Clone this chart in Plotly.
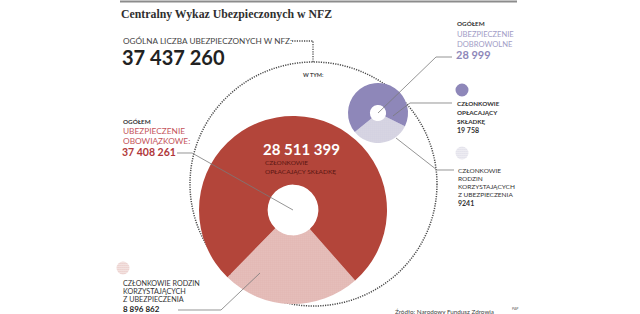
import plotly.graph_objects as go

W, H = 640, 314
def fx(x): return x / W
def fy(y): return 1 - y / H

# ---- data ----
title = "Centralny Wykaz Ubezpieczonych w NFZ"
total_all = "37 437 260"
mand_labels = ["Członkowie rodzin korzystających z ubezpieczenia", "Członkowie opłacający składkę"]
mand_values = [8896862, 28511399]
vol_labels = ["Członkowie rodzin korzystających z ubezpieczenia", "Członkowie opłacający składkę"]
vol_values = [9241, 19758]
mand_total = "37 408 261"
vol_total = "28 999"
mand_pay_txt = "28 511 399"
mand_fam_txt = "8 896 862"
vol_pay_txt = "19 758"
vol_fam_txt = "9241"

RED = "#b3453a"
PURPLE = "#8e87b9"
LRED = "#c4545a"
LPUR = "#a29dc6"
DOTRED = "#c0665d"
DOTPUR = "#a29ebd"

fig = go.Figure()

# big pie (obowiązkowe)
fig.add_trace(go.Pie(
    labels=mand_labels, values=mand_values, sort=False, direction="clockwise",
    rotation=138.6, hole=0.27, textinfo="none", hoverinfo="label+value",
    marker=dict(colors=["white", RED], line=dict(width=0),
                pattern=dict(shape=[".", ""], fgcolor=[DOTRED, RED], bgcolor=["#fbf1f0", RED],
                             size=2, solidity=0.4)),
    domain=dict(x=[fx(199), fx(387)], y=[fy(304), fy(116)]), showlegend=False))

# small pie (dobrowolne)
fig.add_trace(go.Pie(
    labels=vol_labels, values=vol_values, sort=False, direction="clockwise",
    rotation=116, hole=0.27, textinfo="none", hoverinfo="label+value",
    marker=dict(colors=["white", PURPLE], line=dict(width=0),
                pattern=dict(shape=[".", ""], fgcolor=[DOTPUR, PURPLE], bgcolor=["#f6f5f9", PURPLE],
                             size=2, solidity=0.4)),
    domain=dict(x=[fx(348), fx(408)], y=[fy(143), fy(83)]), showlegend=False))

# hatched legend icons (mini pies)
for (cx, cy, col) in [(462, 153, DOTPUR), (123, 268, DOTRED)]:
    fig.add_trace(go.Pie(
        labels=["icon"], values=[1], textinfo="none", hoverinfo="skip", sort=False,
        marker=dict(colors=["white"], line=dict(width=0),
                    pattern=dict(shape=".", fgcolor=col, bgcolor="white", size=2, solidity=0.3)),
        domain=dict(x=[fx(cx - 6.5), fx(cx + 6.5)], y=[fy(cy + 6.5), fy(cy - 6.5)]),
        showlegend=False))

shapes = []
# top rule
shapes.append(dict(type="line", xref="paper", yref="paper", x0=fx(120), x1=fx(517), y0=fy(1.5), y1=fy(1.5),
                   line=dict(color="#8c8c8c", width=2)))
# big dotted circle
shapes.append(dict(type="circle", xref="paper", yref="paper", x0=fx(190), x1=fx(437), y0=fy(306), y1=fy(62),
                   line=dict(color="#4a4a4a", width=1.5, dash="1.2px,1.2px"), layer="below"))
def path(pts):
    s = "M %f %f" % (fx(pts[0][0]), fy(pts[0][1]))
    for p in pts[1:]:
        s += " L %f %f" % (fx(p[0]), fy(p[1]))
    return s
# dotted connector from total to circle
shapes.append(dict(type="path", xref="paper", yref="paper", path=path([(292, 41), (313, 41), (313, 62)]),
                   line=dict(color="#4a4a4a", width=1.3, dash="1.2px,1.2px")))
# connector lines
for pts in [
    [(452, 57), (436, 57), (378, 113)],
    [(452, 103), (410, 103), (393, 116)],
    [(454, 170), (437, 170), (396, 138)],
    [(177, 153), (192, 153), (293, 210)],
    [(178, 310), (221, 310), (260, 273)],
]:
    shapes.append(dict(type="path", xref="paper", yref="paper", path=path(pts),
                       line=dict(color="#7a7a7a", width=0.8)))
# purple legend dot
shapes.append(dict(type="circle", xref="paper", yref="paper", x0=fx(455.5), x1=fx(468.5), y0=fy(96.5), y1=fy(83.5),
                   fillcolor=PURPLE, line=dict(width=0)))

ann = []
def txt(x, y, t, size, color, family="Lato", anchor="left"):
    ann.append(dict(x=fx(x), y=fy(y), xref="paper", yref="paper", text=t, showarrow=False,
                    xanchor=anchor, yanchor="middle", font=dict(size=size, color=color, family=family)))

txt(119, 14, "<b>" + title + "</b>", 11.8, "#2f2f2f", family="Liberation Serif")
txt(121, 41, "OGÓLNA LICZBA UBEZPIECZONYCH W NFZ:", 8.2, "#444")
txt(120, 57, "<b>" + total_all + "</b>", 20, "#222")
txt(301, 75, "<b>W TYM:</b>", 5.5, "#444")

# right: voluntary
txt(455, 24, "<b>OGÓŁEM</b>", 6.3, "#333")
txt(455, 34, "UBEZPIECZENIE", 7.6, LPUR)
txt(455, 44, "DOBROWOLNE", 7.6, LPUR)
txt(454, 55, "<b>" + vol_total + "</b>", 11, PURPLE)

txt(455, 104, "<b>CZŁONKOWIE</b>", 6.3, "#333")
txt(455, 112.5, "<b>OPŁACAJĄCY</b>", 6.3, "#333")
txt(455, 121, "<b>SKŁADKĘ</b>", 6.3, "#333")
txt(455, 130, "<b>" + vol_pay_txt + "</b>", 7, "#333")

txt(456, 170, "CZŁONKOWIE", 6.5, "#333")
txt(456, 178, "RODZIN", 6.5, "#333")
txt(456, 186, "KORZYSTAJĄCYCH", 6.5, "#333")
txt(456, 194, "Z UBEZPIECZENIA", 6.5, "#333")
txt(456, 203, "<b>" + vol_fam_txt + "</b>", 7, "#333")

# left: mandatory
txt(121, 121, "<b>OGÓŁEM</b>", 6.3, "#333")
txt(121, 131, "UBEZPIECZENIE", 8.3, LRED)
txt(121, 141, "OBOWIĄZKOWE:", 8.3, LRED)
txt(120, 152, "<b>" + mand_total + "</b>", 10.5, "#b0373a")

txt(121, 283, "CZŁONKOWIE RODZIN", 7.2, "#333")
txt(121, 291, "KORZYSTAJĄCYCH", 7.2, "#333")
txt(121, 299, "Z UBEZPIECZENIA", 7.2, "#333")
txt(121, 309, "<b>" + mand_fam_txt + "</b>", 8, "#222")

# center of big pie
txt(261, 149, "<b>" + mand_pay_txt + "</b>", 15, "white")
txt(263, 162, "CZŁONKOWIE", 6.5, "#5a1712")
txt(263, 171, "OPŁACAJĄCY SKŁADKĘ", 6.5, "#5a1712")

# source
txt(393, 311, "Źródło: Narodowy Fundusz Zdrowia", 6.3, "#444")
txt(510, 309, "PAP", 3.5, "#666")

fig.update_layout(width=W, height=H, margin=dict(l=0, r=0, t=0, b=0),
                  paper_bgcolor="white", plot_bgcolor="white",
                  shapes=shapes, annotations=ann, showlegend=False)

fig.write_html("out.html")
